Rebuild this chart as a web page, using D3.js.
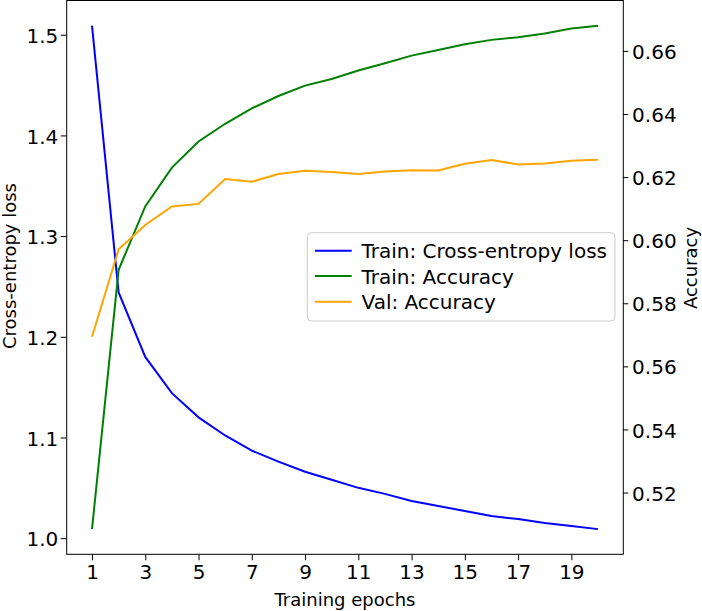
<!DOCTYPE html>
<html><head><meta charset="utf-8">
<script src="https://cdn.jsdelivr.net/npm/d3@7"></script>
<style>body{margin:0;background:#fff}svg{display:block}text{font-family:"DejaVu Sans",sans-serif;fill:#000}</style>
</head><body><svg id="c" width="702" height="611"></svg>
<script>
const epochs = [1,2,3,4,5,6,7,8,9,10,11,12,13,14,15,16,17,18,19,20];
const trainLoss = [1.509,1.244,1.180,1.144,1.120,1.102,1.087,1.076,1.066,1.058,1.050,1.044,1.037,1.032,1.027,1.022,1.019,1.015,1.012,1.009];
const trainAcc = [0.5084,0.5906,0.6107,0.6230,0.6313,0.6369,0.6418,0.6457,0.6490,0.6511,0.6538,0.6561,0.6585,0.6603,0.6621,0.6635,0.6643,0.6655,0.6671,0.6680];
const valAcc = [0.5694,0.5971,0.6048,0.6107,0.6115,0.6194,0.6185,0.6210,0.6220,0.6216,0.6210,0.6218,0.6222,0.6221,0.6242,0.6254,0.6240,0.6243,0.6252,0.6255];
const xTicks = [1,3,5,7,9,11,13,15,17,19];
const lossTicks = [1.0,1.1,1.2,1.3,1.4,1.5];
const accTicks = [0.52,0.54,0.56,0.58,0.60,0.62,0.64,0.66];
const seriesNames = ["Train: Cross-entropy loss","Train: Accuracy","Val: Accuracy"];
const seriesColors = ["#0000ff","#008000","#ffa500"];

const L = 66.7, R = 623.3, T = 0.5, B = 554.3;
function pad(ext){ const d=(ext[1]-ext[0])*0.05; return [ext[0]-d, ext[1]+d]; }

const svg = d3.select("#c");
const x = d3.scaleLinear().domain(pad(d3.extent(epochs))).range([L,R]);
const yL = d3.scaleLinear().domain(pad(d3.extent(trainLoss))).range([B,T]);
const allAcc = trainAcc.concat(valAcc);
const yR = d3.scaleLinear().domain(pad(d3.extent(allAcc))).range([B,T]);

// axes
const gx = svg.append("g").attr("transform",`translate(0,${B})`)
  .call(d3.axisBottom(x).tickValues(xTicks).tickFormat(d3.format("d")).tickSize(6).tickSizeOuter(0));
gx.select(".domain").remove();
gx.selectAll("text").attr("y",24.7).attr("dy",0).style("font-size","20px").style("font-family","DejaVu Sans");

const gl = svg.append("g").attr("transform",`translate(${L},0)`)
  .call(d3.axisLeft(yL).tickValues(lossTicks).tickFormat(d3.format(".1f")).tickSize(6).tickSizeOuter(0));
gl.select(".domain").remove();
gl.selectAll("text").attr("x",-8.4).attr("dy",7.6).style("font-size","20px").style("font-family","DejaVu Sans");

const gr = svg.append("g").attr("transform",`translate(${R},0)`)
  .call(d3.axisRight(yR).tickValues(accTicks).tickFormat(d3.format(".2f")).tickSize(5).tickSizeOuter(0));
gr.select(".domain").remove();
gr.selectAll("text").attr("x",8.8).attr("dy",7.6).style("font-size","20px").style("font-family","DejaVu Sans");

svg.selectAll(".tick line").attr("stroke","#000").attr("stroke-width",1);

// lines
const lineL = d3.line().x((d,i)=>x(epochs[i])).y(d=>yL(d));
const lineR = d3.line().x((d,i)=>x(epochs[i])).y(d=>yR(d));
svg.append("path").attr("d",lineL(trainLoss)).attr("fill","none").attr("stroke",seriesColors[0]).attr("stroke-width",2);
svg.append("path").attr("d",lineR(trainAcc)).attr("fill","none").attr("stroke",seriesColors[1]).attr("stroke-width",2);
svg.append("path").attr("d",lineR(valAcc)).attr("fill","none").attr("stroke",seriesColors[2]).attr("stroke-width",2);

// frame
svg.append("rect").attr("x",L).attr("y",T).attr("width",R-L).attr("height",B-T)
  .attr("fill","none").attr("stroke","#000").attr("stroke-width",1);

// axis labels
svg.append("text").attr("x",(L+R)/2).attr("y",605.5).attr("text-anchor","middle")
  .style("font-size","18px").text("Training epochs");
svg.append("text").attr("transform","translate(15.5,266) rotate(-90)").attr("text-anchor","middle")
  .style("font-size","18px").text("Cross-entropy loss");
svg.append("text").attr("transform","translate(697,268) rotate(-90)").attr("text-anchor","middle")
  .style("font-size","18px").text("Accuracy");

// legend
const lg = svg.append("g");
lg.append("rect").attr("x",307.3).attr("y",232.7).attr("width",307.7).attr("height",88.3).attr("rx",4)
  .attr("fill","#fff").attr("fill-opacity",0.8).attr("stroke","#cccccc").attr("stroke-width",1);
const rows = [250.7,276,301.7];
seriesNames.forEach((n,i)=>{
  lg.append("line").attr("x1",315).attr("x2",351.7).attr("y1",rows[i]).attr("y2",rows[i])
    .attr("stroke",seriesColors[i]).attr("stroke-width",2);
  lg.append("text").attr("x",361.5).attr("y",rows[i]+7.6).style("font-size","20px").text(n);
});
</script></body></html>
